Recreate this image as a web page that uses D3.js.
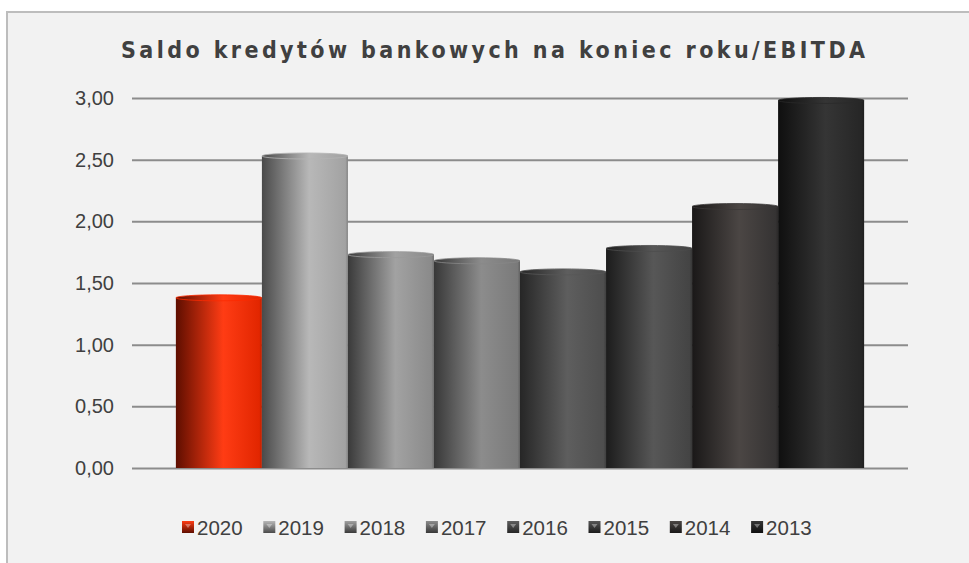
<!DOCTYPE html>
<html>
<head>
<meta charset="utf-8">
<script src="https://cdn.jsdelivr.net/npm/d3@7"></script>
<style>
  body { margin: 0; background: #fff; }
  svg { display: block; }
</style>
</head>
<body>
<svg width="969" height="563"></svg>
<script>
// Data
var years = ["2020", "2019", "2018", "2017", "2016", "2015", "2014", "2013"];
var values = [1.38, 2.53, 1.73, 1.68, 1.59, 1.78, 2.12, 2.98];
var yTicks = [0, 0.5, 1, 1.5, 2, 2.5, 3];
var title = "Saldo kredytów bankowych na koniec roku/EBITDA";

// cylinder shading per year: [left edge, highlight, right edge]
var shades = [
  ["#5e0e00", "#ff3c14", "#e22600"],
  ["#4a4a4a", "#b8b8b8", "#a2a2a2"],
  ["#3a3a3a", "#a2a2a2", "#8a8a8a"],
  ["#383838", "#8c8c8c", "#7a7a7a"],
  ["#262626", "#5e5e5e", "#4e4e4e"],
  ["#1c1c1c", "#575757", "#444444"],
  ["#1a1818", "#4b4644", "#353333"],
  ["#0f0f0f", "#353535", "#262626"]
];

var svg = d3.select("svg"),
    width = +svg.attr("width"),
    height = +svg.attr("height");

var plot = { left: 132, right: 908, top: 98, bottom: 468 };

// chart area + frame
svg.append("rect")
    .attr("x", 7).attr("y", 12)
    .attr("width", width).attr("height", height)
    .attr("fill", "#f2f2f2")
    .attr("stroke", "#bdbdbd")
    .attr("stroke-width", 2);

svg.append("text")
    .attr("x", 493)
    .attr("y", 58)
    .attr("text-anchor", "middle")
    .attr("textLength", 744)
    .attr("lengthAdjust", "spacing")
    .style("font-family", "DejaVu Sans Condensed, DejaVu Sans")
    .style("font-stretch", "condensed")
    .style("font-weight", "bold")
    .style("font-size", "23px")
    .style("fill", "#404040")
    .text(title);

var x = d3.scaleBand()
    .domain(years)
    .range([plot.left, plot.right])
    .paddingInner(0)
    .paddingOuter(0.51);

var y = d3.scaleLinear()
    .domain([0, 3])
    .range([plot.bottom, plot.top]);

// gradients
var defs = svg.append("defs");
years.forEach(function(yr, i) {
  var g = defs.append("linearGradient")
      .attr("id", "cyl" + yr)
      .attr("x1", 0).attr("x2", 1).attr("y1", 0).attr("y2", 0);
  g.append("stop").attr("offset", "0%").attr("stop-color", shades[i][0]);
  g.append("stop").attr("offset", "55%").attr("stop-color", shades[i][1]);
  g.append("stop").attr("offset", "97%").attr("stop-color", shades[i][2]);
  g.append("stop").attr("offset", "100%").attr("stop-color", d3.color(shades[i][2]).darker(0.6));

  var k = defs.append("linearGradient")
      .attr("id", "key" + yr)
      .attr("x1", 0).attr("x2", 0).attr("y1", 0).attr("y2", 1);
  k.append("stop").attr("offset", "0%").attr("stop-color", shades[i][1]);
  k.append("stop").attr("offset", "100%").attr("stop-color", shades[i][0]);
});

// gridlines + y axis labels
var yAxis = d3.axisLeft(y)
    .tickValues(yTicks)
    .tickSize(-(plot.right - plot.left))
    .tickPadding(18)
    .tickFormat(function(d) { return d3.format(".2f")(d).replace(".", ","); });

var ga = svg.append("g")
    .attr("transform", "translate(" + plot.left + ",0)")
    .call(yAxis);
ga.select(".domain").remove();
ga.selectAll(".tick line")
    .attr("stroke", "#8c8c8c")
    .attr("stroke-width", 2);
ga.selectAll(".tick text")
    .style("font-family", "Liberation Sans, Arial")
    .style("font-size", "20px")
    .style("fill", "#404040");

// bars (cylinders)
var bars = svg.append("g").selectAll("g")
    .data(years)
    .enter().append("g");

bars.append("rect")
    .attr("x", function(d) { return x(d); })
    .attr("y", function(d, i) { return y(values[i]); })
    .attr("width", x.bandwidth())
    .attr("height", function(d, i) { return y(0) - y(values[i]); })
    .attr("fill", function(d) { return "url(#cyl" + d + ")"; });

bars.append("ellipse")
    .attr("cx", function(d) { return x(d) + x.bandwidth() / 2; })
    .attr("cy", function(d, i) { return y(values[i]); })
    .attr("rx", x.bandwidth() / 2)
    .attr("ry", 3)
    .attr("fill", function(d) { return "url(#cyl" + d + ")"; })
    .attr("stroke", function(d, i) { return d3.color(shades[i][2]).brighter(0.3); })
    .attr("stroke-width", 0.8);

// legend
var legend = svg.append("g").selectAll("g")
    .data(years)
    .enter().append("g")
    .attr("transform", function(d, i) { return "translate(" + (182 + i * 81.3) + ",521)"; });

legend.append("rect")
    .attr("width", 12).attr("height", 12)
    .attr("fill", function(d) { return "url(#key" + d + ")"; });

legend.append("path")
    .attr("d", "M3,3L9,3L6,7Z")
    .attr("fill", "#fff")
    .attr("opacity", 0.35);

legend.append("text")
    .attr("x", 15)
    .attr("y", 13.5)
    .style("font-family", "Liberation Sans, Arial")
    .style("font-size", "20.5px")
    .style("fill", "#404040")
    .text(function(d) { return d; });
</script>
</body>
</html>
